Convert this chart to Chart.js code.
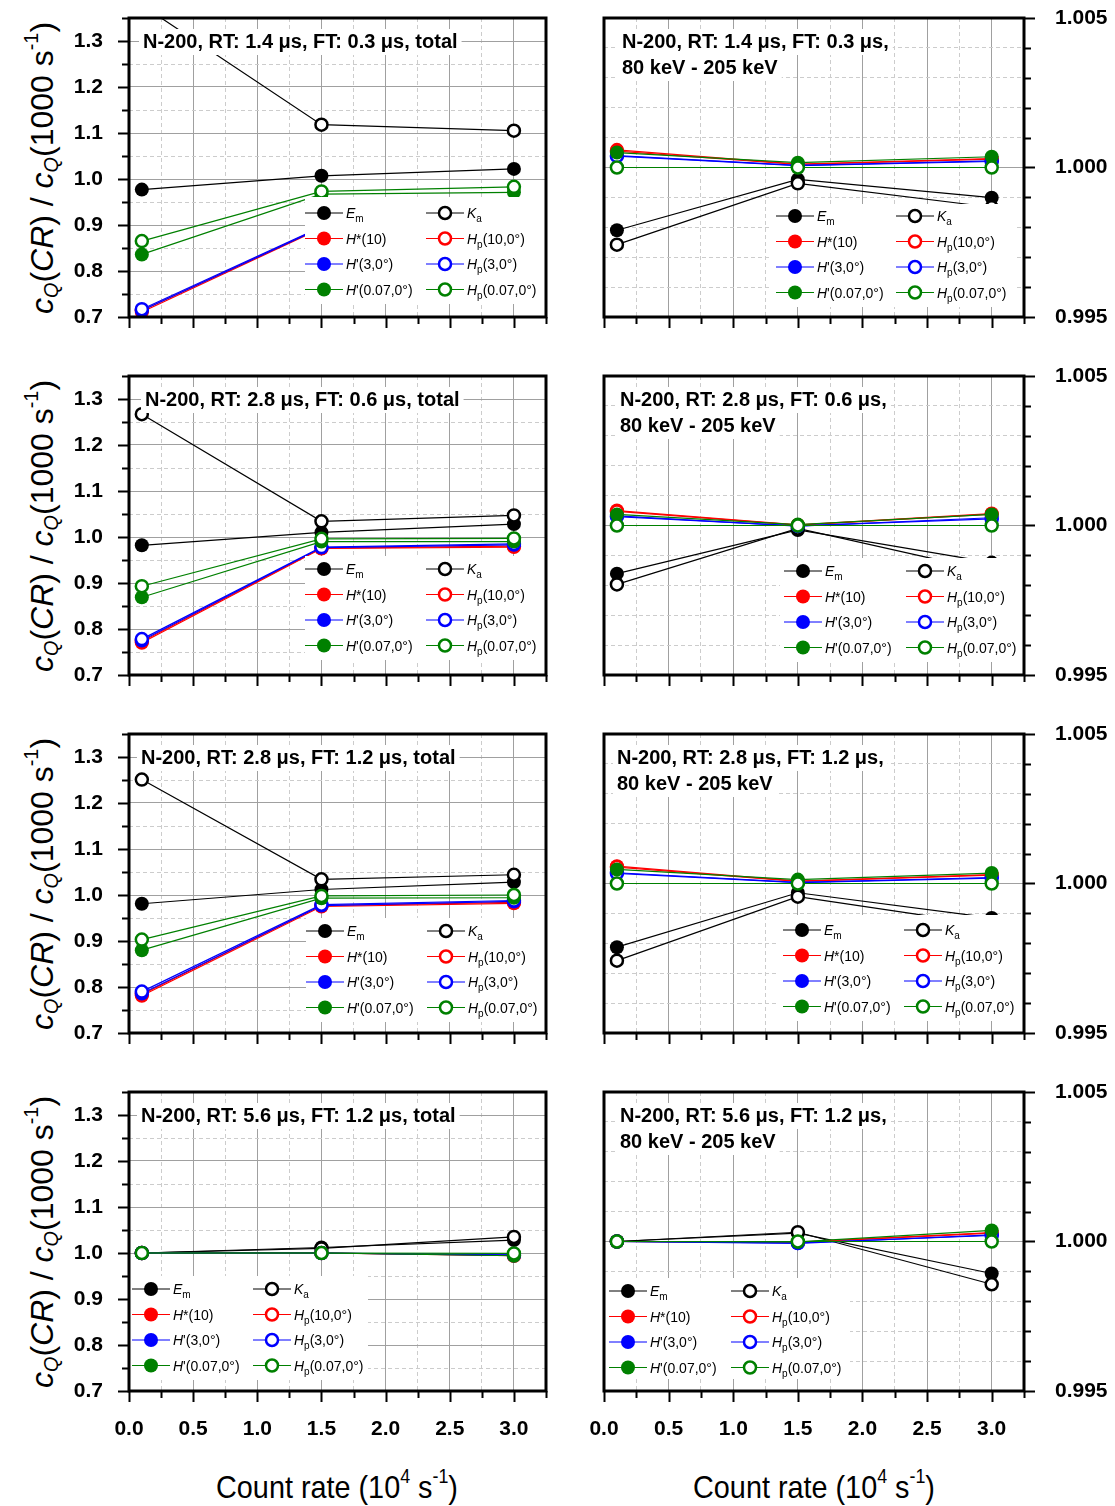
<!DOCTYPE html>
<html>
<head>
<meta charset="utf-8">
<script src="https://cdn.jsdelivr.net/npm/chart.js@4.4.0/dist/chart.umd.min.js"></script>
<style>
  body { margin: 0; background: #fff; width: 1115px; height: 1506px; position: relative; overflow: hidden;
         font-family: "Liberation Sans", Arial, sans-serif; }
  canvas { position: absolute; }
  .ytitle { position: absolute; transform: translate(-50%, -50%) rotate(-90deg); font-size: 32px;
            white-space: nowrap; line-height: 1; color: #000; }
  .xtitle { position: absolute; top: 1485px; transform: translate(-50%, -50%) scaleX(0.9); font-size: 32px;
            white-space: nowrap; line-height: 1; color: #000; }
  .sb { font-size: 0.62em; vertical-align: -0.3em; }
  .sp { font-size: 0.62em; vertical-align: 0.75em; }
</style>
</head>
<body>

<div class="ytitle" style="left:42px;top:168px"><i>c</i><span class="sb"><i>Q</i></span>(<i>CR</i>) / <i>c</i><span class="sb"><i>Q</i></span>(1000 s<span class="sp">-1</span>)</div>
<div class="ytitle" style="left:42px;top:526px"><i>c</i><span class="sb"><i>Q</i></span>(<i>CR</i>) / <i>c</i><span class="sb"><i>Q</i></span>(1000 s<span class="sp">-1</span>)</div>
<div class="ytitle" style="left:42px;top:884px"><i>c</i><span class="sb"><i>Q</i></span>(<i>CR</i>) / <i>c</i><span class="sb"><i>Q</i></span>(1000 s<span class="sp">-1</span>)</div>
<div class="ytitle" style="left:42px;top:1242px"><i>c</i><span class="sb"><i>Q</i></span>(<i>CR</i>) / <i>c</i><span class="sb"><i>Q</i></span>(1000 s<span class="sp">-1</span>)</div>
<div class="xtitle" style="left:337px">Count rate (10<span class="sp">4</span> s<span class="sp">-1</span>)</div>
<div class="xtitle" style="left:814px">Count rate (10<span class="sp">4</span> s<span class="sp">-1</span>)</div>

<script>
// count rate in 10^4 s^-1
const countRate = [0.1, 1.5, 3.0];

const xMajorTicks = [0.0, 0.5, 1.0, 1.5, 2.0, 2.5, 3.0];
const totalMajorTicks = [0.7, 0.8, 0.9, 1.0, 1.1, 1.2, 1.3];
const windowMajorTicks = [0.995, 1.000, 1.005];

// row order in every table:
// Em, Ka, H*(10), Hp(10,0°), H'(3,0°), Hp(3,0°), H'(0.07,0°), Hp(0.07,0°)
const totalRT14FT03 = [
  [0.977, 1.007, 1.022],
  [1.378, 1.118, 1.105],
  [0.711, 0.893, 0.905],
  [0.714, 0.895, 0.907],
  [0.714, 0.894, 0.906],
  [0.717, 0.896, 0.908],
  [0.836, 0.967, 0.971],
  [0.865, 0.973, 0.983]
];
const totalRT28FT06 = [
  [0.982, 1.010, 1.028],
  [1.267, 1.034, 1.047],
  [0.770, 0.975, 0.978],
  [0.773, 0.976, 0.980],
  [0.775, 0.977, 0.983],
  [0.778, 0.978, 0.985],
  [0.869, 0.990, 0.990],
  [0.893, 0.996, 0.997]
];
const totalRT28FT12 = [
  [0.981, 1.012, 1.028],
  [1.251, 1.034, 1.044],
  [0.781, 0.975, 0.982],
  [0.784, 0.977, 0.984],
  [0.786, 0.977, 0.986],
  [0.790, 0.979, 0.988],
  [0.880, 0.993, 0.994],
  [0.903, 0.998, 1.000]
];
const totalRT56FT12 = [
  [1.000, 1.012, 1.028],
  [1.000, 1.010, 1.035],
  [1.000, 1.000, 0.995],
  [1.000, 1.000, 0.994],
  [1.000, 1.000, 0.996],
  [1.000, 1.000, 0.995],
  [1.000, 1.000, 0.994],
  [1.000, 1.000, 0.999]
];
const windowRT14FT03 = [
  [0.99790, 0.99960, 0.99899],
  [0.99742, 0.99947, 0.99867],
  [1.00059, 1.00011, 1.00030],
  [1.00055, 1.00010, 1.00028],
  [1.00040, 1.00007, 1.00022],
  [1.00038, 1.00006, 1.00020],
  [1.00050, 1.00016, 1.00036],
  [1.00000, 1.00000, 1.00000]
];
const windowRT28FT06 = [
  [0.99839, 0.99985, 0.99876],
  [0.99803, 0.99990, 0.99845],
  [1.00050, 1.00002, 1.00040],
  [1.00047, 1.00001, 1.00038],
  [1.00032, 0.99998, 1.00026],
  [1.00030, 0.99999, 1.00022],
  [1.00037, 1.00003, 1.00037],
  [1.00000, 1.00000, 1.00000]
];
const windowRT28FT12 = [
  [0.99787, 0.99969, 0.99885],
  [0.99742, 0.99956, 0.99860],
  [1.00058, 1.00008, 1.00030],
  [1.00055, 1.00007, 1.00028],
  [1.00036, 1.00004, 1.00020],
  [1.00034, 1.00003, 1.00018],
  [1.00047, 1.00013, 1.00035],
  [1.00000, 1.00000, 1.00000]
];
const windowRT56FT12 = [
  [1.00000, 1.00028, 0.99893],
  [1.00000, 1.00031, 0.99857],
  [1.00000, 0.99998, 1.00030],
  [1.00000, 0.99997, 1.00028],
  [1.00000, 0.99994, 1.00022],
  [1.00000, 0.99995, 1.00020],
  [1.00000, 0.99999, 1.00037],
  [1.00000, 1.00000, 1.00000]
];

// legend labels as styled pieces (i = italic, sub = subscript)
const seriesLabels = [
  [{ t: 'E', i: 1 }, { t: 'm', sub: 1 }],
  [{ t: 'K', i: 1 }, { t: 'a', sub: 1 }],
  [{ t: 'H', i: 1 }, { t: '*(10)' }],
  [{ t: 'H', i: 1 }, { t: 'p', sub: 1 }, { t: '(10,0°)' }],
  [{ t: 'H', i: 1 }, { t: "'(3,0°)" }],
  [{ t: 'H', i: 1 }, { t: 'p', sub: 1 }, { t: '(3,0°)' }],
  [{ t: 'H', i: 1 }, { t: "'(0.07,0°)" }],
  [{ t: 'H', i: 1 }, { t: 'p', sub: 1 }, { t: '(0.07,0°)' }]
];
const seriesColors = ['#000000', '#000000', '#ff0000', '#ff0000', '#0000ff', '#0000ff', '#008000', '#008000'];
const seriesFilled = [true, false, true, false, true, false, true, false];

const FONT = '"Liberation Sans", Arial, sans-serif';
const ROW_TOP = [18, 376, 734, 1092];
const PLOT_H = 299;
const MAJOR_GRID = '#a0a0a0';
const MINOR_GRID = '#cccccc';

const panels = [
  { col: 0, row: 0, data: totalRT14FT03, title: ['N-200, RT: 1.4 μs, FT: 0.3 μs, total'], titleX: 143,
    legend: { c1: 324, c2: 445, y: 213, box: [305, 197, 546, 304] } },
  { col: 0, row: 1, data: totalRT28FT06, title: ['N-200, RT: 2.8 μs, FT: 0.6 μs, total'], titleX: 145,
    legend: { c1: 324, c2: 445, y: 569, box: [305, 556, 546, 660] } },
  { col: 0, row: 2, data: totalRT28FT12, title: ['N-200, RT: 2.8 μs, FT: 1.2 μs, total'], titleX: 141,
    legend: { c1: 325, c2: 446, y: 931, box: [306, 918, 546, 1022] } },
  { col: 0, row: 3, data: totalRT56FT12, title: ['N-200, RT: 5.6 μs, FT: 1.2 μs, total'], titleX: 141,
    legend: { c1: 151, c2: 272, y: 1289, box: [129, 1276, 368, 1380] } },
  { col: 1, row: 0, data: windowRT14FT03, title: ['N-200, RT: 1.4 μs, FT: 0.3 μs,', '80 keV - 205 keV'], titleX: 622,
    legend: { c1: 795, c2: 915, y: 216, box: [772, 204, 1016, 307] } },
  { col: 1, row: 1, data: windowRT28FT06, title: ['N-200, RT: 2.8 μs, FT: 0.6 μs,', '80 keV - 205 keV'], titleX: 620,
    legend: { c1: 803, c2: 925, y: 571, box: [780, 558, 1023, 662] } },
  { col: 1, row: 2, data: windowRT28FT12, title: ['N-200, RT: 2.8 μs, FT: 1.2 μs,', '80 keV - 205 keV'], titleX: 617,
    legend: { c1: 802, c2: 923, y: 930, box: [779, 915, 1023, 1021] } },
  { col: 1, row: 3, data: windowRT56FT12, title: ['N-200, RT: 5.6 μs, FT: 1.2 μs,', '80 keV - 205 keV'], titleX: 620,
    legend: { c1: 628, c2: 750, y: 1291, box: [604, 1278, 850, 1379] } }
];

function onStep(v, step) {
  return Math.abs(v / step - Math.round(v / step)) < 1e-6;
}

function isMajor(v, list) {
  return list.some(m => Math.abs(m - v) < 1e-7);
}

function drawRich(ctx, segs, x, y) {
  segs.forEach(s => {
    const size = s.sub ? 10 : 14;
    ctx.font = (s.i ? 'italic ' : '') + size + 'px ' + FONT;
    ctx.fillText(s.t, x, y + (s.sub ? 9 : 5));
    x += ctx.measureText(s.t).width;
  });
}

function marker(ctx, x, y, color, filled) {
  ctx.beginPath();
  if (filled) {
    ctx.arc(x, y, 7, 0, Math.PI * 2);
    ctx.fillStyle = color;
    ctx.fill();
  } else {
    ctx.arc(x, y, 6, 0, Math.PI * 2);
    ctx.fillStyle = '#fff';
    ctx.fill();
    ctx.lineWidth = 2.5;
    ctx.strokeStyle = color;
    ctx.stroke();
  }
}

// titles, legend, frame and outward tick marks for one panel
function decorPlugin(p, ox, oy) {
  return {
    id: 'decor',
    afterDatasetsDraw(chart) {
      const ctx = chart.ctx;
      ctx.save();
      ctx.font = 'bold 20px ' + FONT;
      ctx.textBaseline = 'middle';
      p.title.forEach((line, k) => {
        const w = ctx.measureText(line).width;
        const x = p.titleX - ox;
        const y = ROW_TOP[p.row] + 24 + k * 26 - oy;
        ctx.fillStyle = '#fff';
        ctx.fillRect(x - 4, y - 13, w + 8, 26);
        ctx.fillStyle = '#000';
        ctx.fillText(line, x, y);
      });

      const lg = p.legend;
      const b = lg.box;
      ctx.fillStyle = '#fff';
      ctx.fillRect(b[0] - ox, b[1] - oy, b[2] - b[0], b[3] - b[1]);
      ctx.textBaseline = 'alphabetic';
      seriesLabels.forEach((segs, i) => {
        const cx = (i % 2 === 0 ? lg.c1 : lg.c2) - ox;
        const cy = lg.y + Math.floor(i / 2) * 25.5 - oy;
        ctx.beginPath();
        ctx.moveTo(cx - 19, cy);
        ctx.lineTo(cx + 19, cy);
        ctx.lineWidth = 1;
        ctx.strokeStyle = seriesColors[i];
        ctx.stroke();
        marker(ctx, cx, cy, seriesColors[i], seriesFilled[i]);
        ctx.fillStyle = '#000';
        drawRich(ctx, segs, cx + 22, cy);
      });
      ctx.restore();
    },
    afterDraw(chart) {
      const ctx = chart.ctx;
      const a = chart.chartArea;
      const xs = chart.scales.x;
      const ys = chart.scales.y;
      const yMajor = p.col === 0 ? totalMajorTicks : windowMajorTicks;
      ctx.save();
      ctx.strokeStyle = '#000';
      ctx.lineWidth = 2;
      ctx.beginPath();
      xs.ticks.forEach(t => {
        const px = Math.round(xs.getPixelForValue(t.value)) + 0.5;
        const len = isMajor(t.value, xMajorTicks) ? 11 : 7;
        ctx.moveTo(px, a.bottom);
        ctx.lineTo(px, a.bottom + len);
      });
      ys.ticks.forEach(t => {
        const py = Math.round(ys.getPixelForValue(t.value)) + 0.5;
        const len = isMajor(t.value, yMajor) ? 11 : 7;
        if (p.col === 0) {
          ctx.moveTo(a.left - len, py);
          ctx.lineTo(a.left, py);
        } else {
          ctx.moveTo(a.right, py);
          ctx.lineTo(a.right + len, py);
        }
      });
      ctx.stroke();
      ctx.lineWidth = 3;
      ctx.strokeRect(a.left, a.top, a.right - a.left, a.bottom - a.top);
      ctx.restore();
    }
  };
}

function buildPanel(p) {
  const bottomRow = p.row === 3;
  const ox = p.col === 0 ? 0 : 560;
  const oy = ROW_TOP[p.row] - 18;
  const xH = bottomRow ? 60 : 14;

  const canvas = document.createElement('canvas');
  canvas.width = p.col === 0 ? 560 : 555;
  canvas.height = 18 + PLOT_H + xH;
  canvas.style.left = ox + 'px';
  canvas.style.top = oy + 'px';
  document.body.appendChild(canvas);

  const datasets = p.data.map((vals, i) => ({
    label: seriesLabels[i].map(s => s.t).join(''),
    data: countRate.map((x, k) => ({ x: x, y: vals[k] })),
    borderColor: seriesColors[i],
    borderWidth: 1.2,
    pointRadius: seriesFilled[i] ? 7 : 6,
    pointBorderWidth: seriesFilled[i] ? 0 : 2.5,
    pointBackgroundColor: seriesFilled[i] ? seriesColors[i] : '#ffffff',
    pointBorderColor: seriesColors[i],
    fill: false,
    tension: 0,
    order: 8 - i
  }));

  const tickFont = { size: 21, weight: 'bold', family: FONT };
  const isLeft = p.col === 0;

  new Chart(canvas, {
    type: 'line',
    data: { datasets: datasets },
    options: {
      responsive: false,
      animation: false,
      devicePixelRatio: 1,
      layout: { padding: { top: 18, bottom: 0, left: isLeft ? 0 : 44, right: isLeft ? 14 : 0 } },
      plugins: { legend: { display: false }, tooltip: { enabled: false } },
      scales: {
        x: {
          type: 'linear',
          min: 0,
          max: 3.25,
          // fixed axis band; label overflow must not shrink the plot
          afterFit: s => { s.height = xH; s.paddingLeft = 0; s.paddingRight = 0; },
          ticks: {
            stepSize: 0.25,
            autoSkip: false,
            maxRotation: 0,
            display: bottomRow,
            padding: 26,
            color: '#000',
            font: tickFont,
            callback: v => isMajor(v, xMajorTicks) ? v.toFixed(1) : ''
          },
          grid: {
            drawTicks: false,
            lineWidth: 1,
            color: c => (c.tick && onStep(c.tick.value, 0.5)) ? MAJOR_GRID : MINOR_GRID
          },
          border: {
            display: false,
            dash: c => (c.tick && onStep(c.tick.value, 0.5)) ? [] : [4, 3]
          }
        },
        y: {
          type: 'linear',
          position: isLeft ? 'left' : 'right',
          min: isLeft ? 0.7 : 0.995,
          max: isLeft ? 1.35 : 1.005,
          afterFit: s => { s.width = isLeft ? 129 : 91; s.paddingTop = 0; s.paddingBottom = 0; },
          ticks: {
            stepSize: isLeft ? 0.05 : 0.001,
            autoSkip: false,
            padding: isLeft ? 26 : 31,
            color: '#000',
            font: tickFont,
            callback: v => isLeft
              ? (isMajor(v, totalMajorTicks) ? v.toFixed(1) : '')
              : (isMajor(v, windowMajorTicks) ? v.toFixed(3) : '')
          },
          grid: {
            drawTicks: false,
            lineWidth: 1,
            color: c => (c.tick && onStep(c.tick.value, isLeft ? 0.1 : 0.005)) ? MAJOR_GRID : MINOR_GRID
          },
          border: {
            display: false,
            dash: c => (c.tick && onStep(c.tick.value, isLeft ? 0.1 : 0.005)) ? [] : [4, 3]
          }
        }
      }
    },
    plugins: [decorPlugin(p, ox, oy)]
  });
}

panels.forEach(buildPanel);
</script>
</body>
</html>
